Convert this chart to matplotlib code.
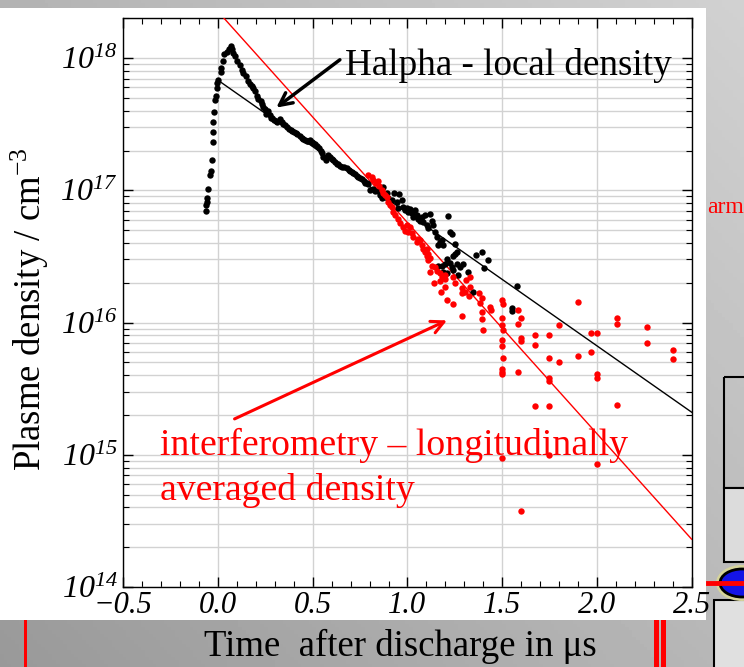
import numpy as np
import matplotlib
matplotlib.use("Agg")
import matplotlib.pyplot as plt
from matplotlib.patches import Rectangle, Ellipse
from matplotlib.ticker import LogLocator, NullFormatter, MultipleLocator

plt.rcParams['font.family'] = ['Liberation Serif', 'DejaVu Serif']
plt.rcParams['mathtext.fontset'] = 'custom'
plt.rcParams['mathtext.rm'] = 'Liberation Serif:style=italic'
plt.rcParams['mathtext.it'] = 'Liberation Serif:style=italic'
plt.rcParams['mathtext.sf'] = 'Liberation Serif'

# Halpha, dense part of the curve (time in us, density in cm^-3)
halpha_t = [-0.065, -0.061, -0.060, -0.056, -0.051, -0.042, -0.037, -0.032, -0.029, -0.028,
            -0.025, -0.021, -0.016, -0.012, -0.007, -0.004, 0.002, 0.014, 0.016, 0.025,
            0.032, 0.046, 0.060, 0.067, 0.072, 0.081, 0.090, 0.102, 0.116, 0.125,
            0.134, 0.148, 0.160, 0.169, 0.178, 0.186, 0.195, 0.204, 0.213, 0.225,
            0.232, 0.239, 0.248, 0.253, 0.266, 0.272, 0.278, 0.287, 0.296, 0.305,
            0.313, 0.327, 0.336, 0.345, 0.356, 0.366, 0.375, 0.384, 0.392, 0.401,
            0.410, 0.418, 0.433, 0.442, 0.450, 0.459, 0.468, 0.477, 0.486, 0.494,
            0.503, 0.512, 0.521, 0.532, 0.542, 0.549, 0.556, 0.570, 0.575, 0.582,
            0.591, 0.600, 0.609, 0.618, 0.627, 0.635, 0.644, 0.655, 0.665, 0.679,
            0.689, 0.697, 0.706, 0.715, 0.724, 0.733, 0.741, 0.750, 0.761, 0.771, 0.785]
halpha_n = [6.95e16, 7.7e16, 8.2e16, 8.7e16, 1.02e17, 1.30e17, 1.39e17, 1.70e17, 2.30e17, 2.75e17,
            3.3e17, 3.9e17, 4.8e17, 5.2e17, 5.9e17, 6.5e17, 6.8e17, 7.9e17, 8.4e17, 9.5e17,
            1.07e18, 1.12e18, 1.18e18, 1.23e18, 1.18e18, 1.10e18, 1.03e18, 9.5e17, 8.8e17, 8.1e17,
            7.7e17, 7.3e17, 6.7e17, 6.4e17, 6.1e17, 5.9e17, 5.6e17, 5.2e17, 4.9e17, 4.7e17,
            4.5e17, 4.3e17, 4.1e17, 3.8e17, 4.0e17, 3.7e17, 3.55e17, 3.5e17, 3.4e17, 3.35e17,
            3.3e17, 3.45e17, 3.3e17, 3.2e17, 3.1e17, 3.0e17, 2.9e17, 2.85e17, 2.8e17, 2.75e17,
            2.7e17, 2.68e17, 2.56e17, 2.5e17, 2.44e17, 2.4e17, 2.35e17, 2.37e17, 2.39e17, 2.33e17,
            2.28e17, 2.23e17, 2.16e17, 2.1e17, 2.0e17, 1.9e17, 1.79e17, 1.7e17, 1.8e17, 1.86e17,
            1.79e17, 1.72e17, 1.69e17, 1.64e17, 1.59e17, 1.57e17, 1.53e17, 1.51e17, 1.49e17, 1.48e17,
            1.43e17, 1.40e17, 1.38e17, 1.36e17, 1.32e17, 1.29e17, 1.27e17, 1.25e17, 1.21e17, 1.18e17, 1.14e17]

# Halpha, scattered late part
halpha_late_t = [0.776, 0.794, 0.803, 0.820, 0.829, 0.846, 0.855, 0.864, 0.873, 0.882,
                 0.891, 0.899, 0.917, 0.931, 0.944, 0.952, 0.956, 0.970, 0.978, 0.987,
                 0.996, 1.005, 1.014, 1.023, 1.031, 1.040, 1.049, 1.058, 1.067, 1.076,
                 1.084, 1.093, 1.102, 1.110, 1.119, 1.128, 1.137, 1.146, 1.155, 1.163,
                 1.172, 1.181, 1.190, 1.207, 1.213, 1.225, 1.237, 1.251, 1.263, 1.242,
                 1.225, 1.234, 1.199, 1.181, 1.163, 1.190, 1.207, 1.242, 1.260, 1.278,
                 1.295, 1.269, 1.322, 1.362, 1.392, 1.427, 1.404, 1.348, 1.580, 1.551,
                 1.551, 1.251]
halpha_late_n = [1.14e17, 1.11e17, 1.0e17, 1.03e17, 9.8e16, 9.8e16, 9.2e16, 8.7e16, 1.06e17, 8.9e16,
                 9.5e16, 8.7e16, 8.4e16, 9.6e16, 8.2e16, 7.3e16, 9.3e16, 8.4e16, 7.5e16, 7.1e16,
                 7.35e16, 6.85e16, 7.2e16, 6.7e16, 6.3e16, 7.1e16, 6.5e16, 6.1e16, 5.9e16, 6.3e16,
                 5.8e16, 6.5e16, 5.5e16, 5.2e16, 6.6e16, 5.9e16, 5.5e16, 4.85e16, 4.45e16, 3.85e16,
                 4.05e16, 4.2e16, 3.85e16, 3.0e16, 6.35e16, 4.8e16, 4.7e16, 3.9e16, 3.4e16, 3.2e16,
                 2.8e16, 2.65e16, 2.75e16, 2.7e16, 2.7e16, 2.42e16, 2.35e16, 2.5e16, 2.75e16, 2.65e16,
                 2.75e16, 2.28e16, 2.42e16, 3.25e16, 3.4e16, 2.95e16, 2.6e16, 1.7e16, 1.9e16, 1.28e16,
                 1.23e16, 3.3e16]

# interferometry
interf_t = [0.794, 0.812, 0.820, 0.833, 0.843, 0.850, 0.864, 0.873, 0.882, 0.891,
            0.899, 0.908, 0.920, 0.926, 0.935, 0.952, 0.961, 0.978, 0.987, 0.996,
            1.005, 1.014, 1.023, 1.031, 1.049, 1.058, 1.067, 1.076, 1.084, 1.093,
            1.102, 1.110, 1.102, 1.119, 1.110, 1.128, 1.146, 1.119, 1.155, 1.172,
            1.199, 1.142, 1.172, 1.181, 1.199, 1.199, 1.176, 1.207, 1.242, 1.242,
            1.251, 1.287, 1.287, 1.304, 1.327, 1.331, 1.331, 1.309, 1.287, 1.380,
            1.383, 1.392, 1.392, 1.398, 1.392, 1.436, 1.440, 1.498, 1.506, 1.498,
            1.498, 1.503, 1.498, 1.498, 1.506, 1.498, 1.498, 1.498, 1.582, 1.598,
            1.582, 1.598, 1.598, 1.582, 1.674, 1.674, 1.749, 1.749, 1.749, 1.749,
            1.802, 1.802, 1.674, 1.749, 1.902, 1.902, 1.968, 2.003, 1.968, 2.003,
            2.003, 2.105, 2.105, 2.105, 2.263, 2.263, 2.401, 2.401, 1.498, 1.749,
            2.003, 1.598]
interf_n = [1.30e17, 1.26e17, 1.19e17, 1.13e17, 1.17e17, 1.08e17, 1.0e17, 9.5e16, 9.2e16, 8.9e16,
            8.2e16, 7.7e16, 7.5e16, 6.8e16, 6.5e16, 6.1e16, 5.7e16, 5.3e16, 4.95e16, 5.5e16,
            4.85e16, 5.3e16, 4.75e16, 4.45e16, 4.05e16, 4.3e16, 4.2e16, 3.85e16, 3.6e16, 3.4e16,
            3.6e16, 3.3e16, 3.2e16, 3.1e16, 2.95e16, 2.7e16, 2.65e16, 2.4e16, 2.45e16, 2.35e16,
            2.28e16, 2.0e16, 2.05e16, 2.2e16, 2.15e16, 1.85e16, 1.7e16, 1.48e16, 1.37e16, 2.2e16,
            1.98e16, 1.83e16, 1.67e16, 1.7e16, 1.6e16, 1.86e16, 2.2e16, 2.1e16, 1.13e16, 1.67e16,
            1.4e16, 1.2e16, 1.07e16, 8.8e15, 1.54e16, 1.31e16, 1.24e16, 1.48e16, 1.39e16, 1.09e16,
            9.5e15, 8.8e15, 7.4e15, 6.6e15, 5.4e15, 4.45e15, 4.25e15, 4.05e15, 1.25e16, 1.09e16,
            9.7e15, 7.6e15, 7.3e15, 4.25e15, 8.0e15, 6.8e15, 8.0e15, 5.4e15, 3.8e15, 3.6e15,
            9.6e15, 5.0e15, 2.35e15, 2.35e15, 1.42e16, 5.6e15, 8.3e15, 8.3e15, 6.0e15, 4.1e15,
            3.8e15, 1.09e16, 9.7e15, 2.4e15, 9.2e15, 7.0e15, 6.2e15, 5.3e15, 9.5e14, 1.0e15,
            8.5e14, 3.75e14]

# exponential fits (end points)
fit_t = [0.0, 2.5]
halpha_fit_n = [6.8e17, 2.1e15]
interf_fit_n = [2.25e18, 2.3e14]

xticks = [-0.5, 0.0, 0.5, 1.0, 1.5, 2.0, 2.5]
xticklabels = ['\u22120.5', '0.0', '0.5', '1.0', '1.5', '2.0', '2.5']
yticks = [1e14, 1e15, 1e16, 1e17, 1e18]
yticklabels = [r'$10^{14}$', r'$10^{15}$', r'$10^{16}$', r'$10^{17}$', r'$10^{18}$']

W, H = 744, 667
fig = plt.figure(figsize=(W / 100, H / 100), dpi=100)

# slide background: grey gradient, white panel, bits of other slide objects
bg = fig.add_axes([0, 0, 1, 1], zorder=-5)
bg.set_xlim(0, W)
bg.set_ylim(H, 0)
bg.axis('off')
gx, gy = np.meshgrid(np.linspace(0, 1, 200), np.linspace(0, 1, 200))
grad = 0.60 + 0.12 * gx + 0.10 * (1 - gy)
bg.imshow(grad, cmap='gray', vmin=0, vmax=1, extent=(0, W, H, 0), aspect='auto')
bg.add_patch(Rectangle((0, 8), 706, 612, facecolor='white', edgecolor='none'))
for x0, w in [(24, 3), (654, 5), (661, 5)]:
    bg.add_patch(Rectangle((x0, 620), w, 47, facecolor='red', edgecolor='none'))
bg.add_patch(Rectangle((724, 377), 40, 111, facecolor='none', edgecolor='black', lw=1.5))
bg.add_patch(Rectangle((724, 488), 40, 74, facecolor='#dcdcdc', edgecolor='black', lw=1.5))
bg.add_patch(Rectangle((714, 600), 50, 80, facecolor='#e0e0e0', edgecolor='black', lw=1.5))
bg.add_patch(Ellipse((742, 583), 52, 36, facecolor='#d6d49a', edgecolor='none'))
bg.add_patch(Ellipse((742, 583), 44, 28, facecolor='#1414e6', edgecolor='black', lw=2))
bg.plot([708, 744], [583, 583], color='red', lw=3.5)
bg.text(707, 213, 'arm', color='red', fontsize=17, va='baseline', ha='left')

ax = fig.add_axes([123.3 / W, 1 - 587 / H, (691.6 - 123.3) / W, (587 - 18.3) / H])
ax.set_facecolor('white')

ax.plot(fit_t, halpha_fit_n, color='black', lw=1.0, zorder=3)
ax.plot(fit_t, interf_fit_n, color='red', lw=1.0, zorder=3)
ax.plot(halpha_t, halpha_n, 'o', color='black', ms=4.6, mew=0, zorder=4)
ax.plot(halpha_late_t, halpha_late_n, 'o', color='black', ms=4.6, mew=0, zorder=4)
ax.plot(interf_t, interf_n, 'o', color='red', ms=4.6, mew=0, zorder=5)

ax.set_yscale('log')
ax.set_xlim(-0.5, 2.5)
ax.set_ylim(1e14, 2e18)

ax.set_xticks(xticks)
ax.set_xticklabels(xticklabels, fontstyle='italic', fontsize=22)
ax.xaxis.set_minor_locator(MultipleLocator(0.1))
ax.set_yticks(yticks)
ax.set_yticklabels(yticklabels, fontsize=23)
ax.yaxis.set_minor_locator(LogLocator(base=10, subs=range(2, 10), numticks=20))
ax.yaxis.set_minor_formatter(NullFormatter())

ax.tick_params(which='both', direction='in', top=True, right=True, color='black')
ax.tick_params(which='major', length=7, width=1)
ax.tick_params(which='minor', length=4, width=0.8)
ax.tick_params(axis='x', pad=3)
ax.tick_params(axis='y', pad=4)

ax.grid(True, axis='y', which='both', color='#d2d2d2', lw=1.0)
ax.grid(True, axis='x', which='major', color='#d2d2d2', lw=1.0)
ax.set_axisbelow(True)
for s in ax.spines.values():
    s.set_color('black')
    s.set_linewidth(1.0)

# annotations
ax.text(0.671, 7.4e17, 'Halpha - local density', fontsize=26.7, color='black', va='baseline', ha='left')
ax.annotate('', xy=(0.296, 4.1e17), xytext=(0.655, 1.0e18),
            arrowprops=dict(arrowstyle='->,head_length=0.9,head_width=0.45', color='black', lw=2.5))
ax.text(-0.306, 1.0e15, 'interferometry \u2013 longitudinally', fontsize=27.2, color='red',
        va='baseline', ha='left', zorder=6)
ax.text(-0.306, 4.55e14, 'averaged density', fontsize=27.2, color='red', va='baseline', ha='left', zorder=6)
ax.annotate('', xy=(1.222, 1.06e16), xytext=(0.074, 1.83e15),
            arrowprops=dict(arrowstyle='->,head_length=0.9,head_width=0.45', color='red', lw=2.2))

fig.text(400 / W, 1 - 656 / H, 'Time  after discharge in \u03bcs', fontsize=26.5,
         ha='center', va='baseline')
fig.text(30 / W, 1 - 309 / H, r'Plasme density / cm$^{\mathsf{-3}}$', fontsize=26.5,
         rotation=90, ha='center', va='center')

fig.savefig('out.png', dpi=100)
